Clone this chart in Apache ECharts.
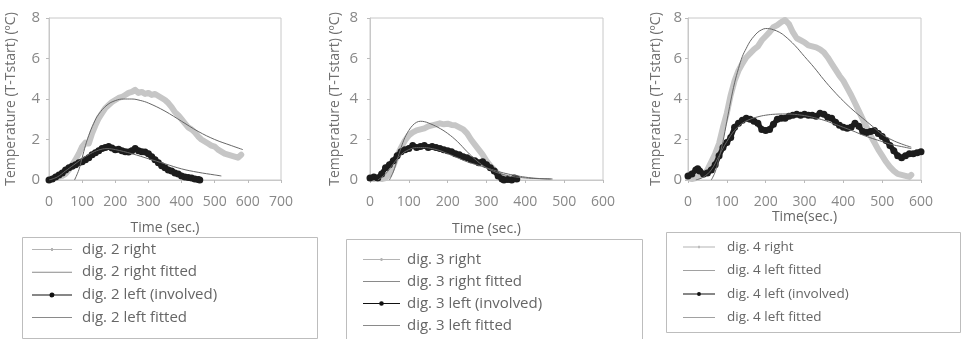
<!DOCTYPE html>
<html>
<head>
<meta charset="utf-8">
<script src="https://cdn.jsdelivr.net/npm/echarts@6/dist/echarts.min.js"></script>
<style>html,body{margin:0;padding:0;background:#fff;}#c{width:962px;height:339px;}</style>
</head>
<body>
<div id="c"></div>
<script>
// ---------- Panel 1 (dig. 2) ----------
var p1RightT = [0,10,20,30,40,50,60,70,80,90,100,110,120,130,140,150,160,170,180,190,200,210,220,230,240,250,260,270,280,290,300,310,320,330,340,350,360,370,380,390,400,410,420,430,440,450,460,470,480,490,500,510,520,530,540,550,560,570,580];
var p1RightV = [0.0,0.05,0.1,0.15,0.2,0.3,0.5,0.75,1.0,1.3,1.65,1.85,1.8,2.3,2.7,3.05,3.3,3.55,3.7,3.85,3.95,4.05,4.1,4.2,4.3,4.35,4.45,4.3,4.35,4.25,4.3,4.2,4.25,4.15,4.05,3.95,3.8,3.6,3.35,3.2,3.0,2.8,2.6,2.5,2.35,2.15,2.0,1.9,1.8,1.7,1.65,1.5,1.4,1.3,1.25,1.2,1.15,1.1,1.25];
var p1RightFitT = [77,90,100,110,120,135,150,175,200,225,250,275,300,350,400,450,500,550,585];
var p1RightFitV = [0,0.5,1.1,1.7,2.2,2.8,3.25,3.7,3.92,4.0,4.0,3.93,3.8,3.4,2.9,2.4,2.0,1.7,1.5];
var p1LeftT = [0,10,20,30,40,50,60,70,80,90,100,110,120,130,140,150,160,170,180,190,200,210,220,230,240,250,260,270,280,290,300,310,320,330,340,350,360,370,380,390,400,410,420,430,440,450,455];
var p1LeftV = [0.0,0.05,0.15,0.25,0.35,0.5,0.6,0.68,0.75,0.85,0.9,1.0,1.1,1.25,1.35,1.45,1.55,1.6,1.65,1.58,1.5,1.52,1.45,1.4,1.38,1.45,1.55,1.45,1.4,1.38,1.3,1.15,1.0,0.85,0.7,0.6,0.5,0.45,0.35,0.3,0.2,0.15,0.12,0.1,0.05,0.02,0.0];
var p1LeftFitT = [0,25,50,75,100,125,150,175,200,250,300,350,400,450,500,520];
var p1LeftFitV = [0,0.15,0.45,0.75,1.05,1.3,1.48,1.55,1.5,1.3,1.05,0.8,0.55,0.38,0.25,0.2];

// ---------- Panel 2 (dig. 3) ----------
var p2RightT = [0,10,20,30,40,50,60,70,80,90,100,110,120,130,140,150,160,170,180,190,200,210,220,230,240,250,260,270,280,290,300,310,320,330,340,350,360];
var p2RightV = [0.1,0.05,0.15,0.05,0.1,0.3,0.7,1.2,1.6,1.95,2.2,2.35,2.45,2.5,2.55,2.65,2.7,2.75,2.8,2.75,2.78,2.72,2.7,2.6,2.5,2.3,2.0,1.75,1.5,1.25,0.95,0.7,0.5,0.3,0.15,0.05,0.02];
var p2RightFitT = [50,60,70,80,90,100,110,120,130,140,150,175,200,225,250,275,300,325,350,375,400,430,465];
var p2RightFitV = [0,0.4,1.0,1.6,2.1,2.45,2.7,2.85,2.9,2.88,2.82,2.6,2.3,1.9,1.4,0.95,0.6,0.38,0.24,0.15,0.1,0.07,0.05];
var p2LeftT = [0,10,20,30,40,50,60,70,80,90,100,110,120,130,140,150,160,170,180,190,200,210,220,230,240,250,260,270,280,290,300,310,320,330,340,345,355,365,372,378];
var p2LeftV = [0.1,0.15,0.1,0.3,0.6,0.75,0.95,1.2,1.4,1.5,1.55,1.7,1.6,1.65,1.7,1.6,1.65,1.6,1.55,1.5,1.45,1.4,1.3,1.25,1.15,1.1,1.0,0.95,0.85,0.9,0.75,0.6,0.45,0.2,0.05,0.0,0.02,0.0,0.1,0.05];
var p2LeftFitT = [20,40,60,80,100,120,140,160,180,200,225,250,275,300,325,350,375,400,430,470];
var p2LeftFitV = [0,0.3,0.8,1.25,1.5,1.6,1.6,1.55,1.45,1.3,1.1,0.9,0.75,0.6,0.45,0.32,0.22,0.14,0.08,0.05];

// ---------- Panel 3 (dig. 4) ----------
var p3RightT = [0,10,20,30,40,50,60,70,80,90,100,110,120,130,140,150,160,170,180,190,200,210,220,230,240,250,260,270,280,290,300,310,320,330,340,350,360,370,380,390,400,410,420,430,440,450,460,470,480,490,500,510,520,530,540,550,560,570,575];
var p3RightV = [0.1,0.05,0.1,0.2,0.25,0.5,0.9,1.3,1.8,2.6,3.3,4.2,4.9,5.4,5.75,6.05,6.25,6.45,6.6,6.9,7.1,7.3,7.55,7.65,7.8,7.9,7.7,7.3,7.0,6.9,6.8,6.65,6.6,6.55,6.45,6.3,6.05,5.75,5.45,5.15,4.9,4.55,4.2,3.8,3.4,3.0,2.6,2.2,1.85,1.5,1.2,0.9,0.65,0.45,0.3,0.25,0.2,0.15,0.25];
var p3RightFitT = [60,70,80,90,100,110,120,130,140,150,160,170,180,190,200,210,220,235,250,275,300,325,350,375,400,425,450,475,500,525,550,575];
var p3RightFitV = [0,0.4,1.1,1.9,2.9,3.9,4.8,5.5,6.1,6.5,6.85,7.1,7.3,7.42,7.48,7.47,7.42,7.3,7.1,6.65,6.1,5.55,4.95,4.4,3.9,3.45,3.05,2.65,2.25,1.98,1.78,1.62];
var p3LeftT = [0,10,20,25,30,40,50,60,70,80,90,100,110,120,130,140,150,160,170,180,190,200,210,220,230,240,250,260,270,280,290,300,310,320,330,340,350,360,370,380,390,400,410,420,430,440,450,460,470,480,490,500,510,520,530,540,550,560,570,580,590,600];
var p3LeftV = [0.2,0.3,0.5,0.55,0.45,0.3,0.35,0.5,0.75,1.2,1.6,1.85,2.1,2.6,2.8,2.95,3.05,3.0,2.9,2.8,2.5,2.45,2.5,2.75,3.0,3.05,3.05,3.15,3.2,3.25,3.2,3.25,3.2,3.2,3.15,3.3,3.25,3.1,3.05,2.85,2.7,2.6,2.55,2.6,2.8,2.65,2.4,2.35,2.4,2.45,2.3,2.15,1.95,1.7,1.45,1.2,1.1,1.2,1.3,1.3,1.35,1.4];
var p3LeftFitT = [20,40,60,80,100,120,140,160,180,200,225,250,275,300,325,350,375,400,425,450,475,500,525,550,575];
var p3LeftFitV = [0,0.15,0.5,1.2,1.9,2.45,2.8,3.0,3.12,3.2,3.25,3.26,3.24,3.18,3.08,2.95,2.78,2.6,2.42,2.22,2.05,1.9,1.75,1.65,1.55];

// ---------- Text ----------
var yTicks = [0,2,4,6,8];
var yTitle = 'Temperature (T-Tstart) (ºC)';
var xTitles = ['Time (sec.)', 'Time (sec.)', 'Time(sec.)'];
var xMaxes = [700, 600, 600];
var legendNames = [
  ['dig. 2 right', 'dig. 2 right fitted', 'dig. 2 left (involved)', 'dig. 2 left fitted'],
  ['dig. 3 right', 'dig. 3 right fitted', 'dig. 3 left (involved)', 'dig. 3 left fitted'],
  ['dig. 4 right', 'dig. 4 left fitted', 'dig. 4 left (involved)', 'dig. 4 left fitted\u200b']
];

function zip(t, v) { return t.map(function (x, i) { return [x, v[i]]; }); }

var panels = [
  [p1RightT, p1RightV, p1RightFitT, p1RightFitV, p1LeftT, p1LeftV, p1LeftFitT, p1LeftFitV],
  [p2RightT, p2RightV, p2RightFitT, p2RightFitV, p2LeftT, p2LeftV, p2LeftFitT, p2LeftFitV],
  [p3RightT, p3RightV, p3RightFitT, p3RightFitV, p3LeftT, p3LeftV, p3LeftFitT, p3LeftFitV]
];

var FONT = 'Open Sans';
var gridPos = [
  {left: 49, top: 18, width: 232, height: 162},
  {left: 370, top: 18, width: 233, height: 162},
  {left: 688, top: 18, width: 233, height: 162}
];
var yNameGap = [31, 28, 25];
var yLabelMargin = [9, 12, 6];
var xNameGap = [41, 42, 30];

var grids = [], xAxes = [], yAxes = [], series = [], legends = [];
var ICON_RIGHT = 'path://M0,2H40V3H0Z M19,1H21V4H19Z';
var ICON_LEFT = 'path://M0,2H40V3H0Z M20,0A2.5,2.5,0,1,1,19.99,0Z';
var ICON_FIT = 'path://M0,0H40V1H0Z';

for (var i = 0; i < 3; i++) {
  var g = gridPos[i];
  grids.push({left: g.left, top: g.top, width: g.width, height: g.height, show: true, borderColor: '#c8c8c8', borderWidth: 1, containLabel: false});
  xAxes.push({
    type: 'value', gridIndex: i, min: 0, max: xMaxes[i], interval: 100,
    name: xTitles[i], nameLocation: 'middle', nameGap: xNameGap[i],
    nameTextStyle: {color: '#666', fontSize: 14, fontFamily: FONT},
    axisLine: {show: true, lineStyle: {color: '#c8c8c8'}},
    axisTick: {show: true, length: 3, lineStyle: {color: '#bbb'}},
    axisLabel: {color: '#888', fontSize: 14, fontFamily: FONT, margin: 15},
    splitLine: {show: false}
  });
  yAxes.push({
    type: 'value', gridIndex: i, min: 0, max: 8, interval: 2,
    name: yTitle, nameLocation: 'middle', nameGap: yNameGap[i], nameRotate: 90,
    nameTextStyle: {color: '#707070', fontSize: 14, fontFamily: FONT},
    axisLine: {show: true, lineStyle: {color: '#c8c8c8'}},
    axisTick: {show: true, length: 3, lineStyle: {color: '#bbb'}},
    axisLabel: {color: '#888', fontSize: 15, fontFamily: FONT, margin: yLabelMargin[i],
      formatter: function (v) { return yTicks.indexOf(v) >= 0 ? String(v) : ''; }},
    splitLine: {show: false}
  });
  var d = panels[i], n = legendNames[i];
  series.push({name: n[0], type: 'line', xAxisIndex: i, yAxisIndex: i, data: zip(d[0], d[1]), showSymbol: false, symbol: 'none',
    lineStyle: {color: '#c6c6c6', width: 6, join: 'round', cap: 'round'}, itemStyle: {color: '#b0b0b0'}, z: 2, silent: true, animation: false});
  series.push({name: n[2], type: 'line', xAxisIndex: i, yAxisIndex: i, data: zip(d[4], d[5]), symbol: 'circle', symbolSize: 7, showSymbol: true,
    lineStyle: {color: '#1c1c1c', width: 5, join: 'round', cap: 'round'}, itemStyle: {color: '#1c1c1c'}, z: 3, silent: true, animation: false});
  series.push({name: n[1], type: 'line', xAxisIndex: i, yAxisIndex: i, data: zip(d[2], d[3]), showSymbol: false, symbol: 'none', smooth: 0.4,
    lineStyle: {color: '#666', width: 1}, itemStyle: {color: '#8a8a8a'}, z: 4, silent: true, animation: false});
  series.push({name: n[3], type: 'line', xAxisIndex: i, yAxisIndex: i, data: zip(d[6], d[7]), showSymbol: false, symbol: 'none', smooth: 0.4,
    lineStyle: {color: '#666', width: 1}, itemStyle: {color: '#8a8a8a'}, z: 4, silent: true, animation: false});
}

var legendPos = [
  {left: 32, top: 242, itemWidth: 40, itemGap: 7.7, pad: 5, fs: 15},
  {left: 363, top: 252, itemWidth: 37, itemGap: 7, pad: 2, fs: 15},
  {left: 683, top: 240, itemWidth: 32, itemGap: 9.5, pad: 7, fs: 13.5}
];
for (var j = 0; j < 3; j++) {
  var lp = legendPos[j], nm = legendNames[j];
  legends.push({
    orient: 'vertical', left: lp.left, top: lp.top, padding: 0,
    itemWidth: lp.itemWidth, itemHeight: 14, itemGap: lp.itemGap, selectedMode: false,
    symbolKeepAspect: true,
    textStyle: {color: '#666', fontSize: lp.fs, lineHeight: 14, fontFamily: FONT, padding: [0, 0, 0, lp.pad]},
    data: [
      {name: nm[0], icon: ICON_RIGHT, itemStyle: {color: '#b4b4b4'}},
      {name: nm[1], icon: ICON_FIT, itemStyle: {color: '#8a8a8a'}},
      {name: nm[2], icon: ICON_LEFT, itemStyle: {color: '#111'}},
      {name: nm[3], icon: ICON_FIT, itemStyle: {color: '#8a8a8a'}}
    ]
  });
}

var boxes = [
  {x: 22, y: 237, w: 295, h: 101},
  {x: 346, y: 239, w: 296, h: 110},
  {x: 666, y: 232, w: 294, h: 100}
];
var graphics = boxes.map(function (b) {
  return {type: 'rect', silent: true, shape: {x: b.x + 0.5, y: b.y + 0.5, width: b.w, height: b.h},
    style: {fill: 'none', stroke: '#bdbdbd', lineWidth: 1}, z: 0};
});

var chart = echarts.init(document.getElementById('c'), null, {renderer: 'canvas'});
chart.setOption({
  animation: false,
  backgroundColor: '#fff',
  grid: grids, xAxis: xAxes, yAxis: yAxes, series: series, legend: legends, graphic: graphics
});
</script>
</body>
</html>
